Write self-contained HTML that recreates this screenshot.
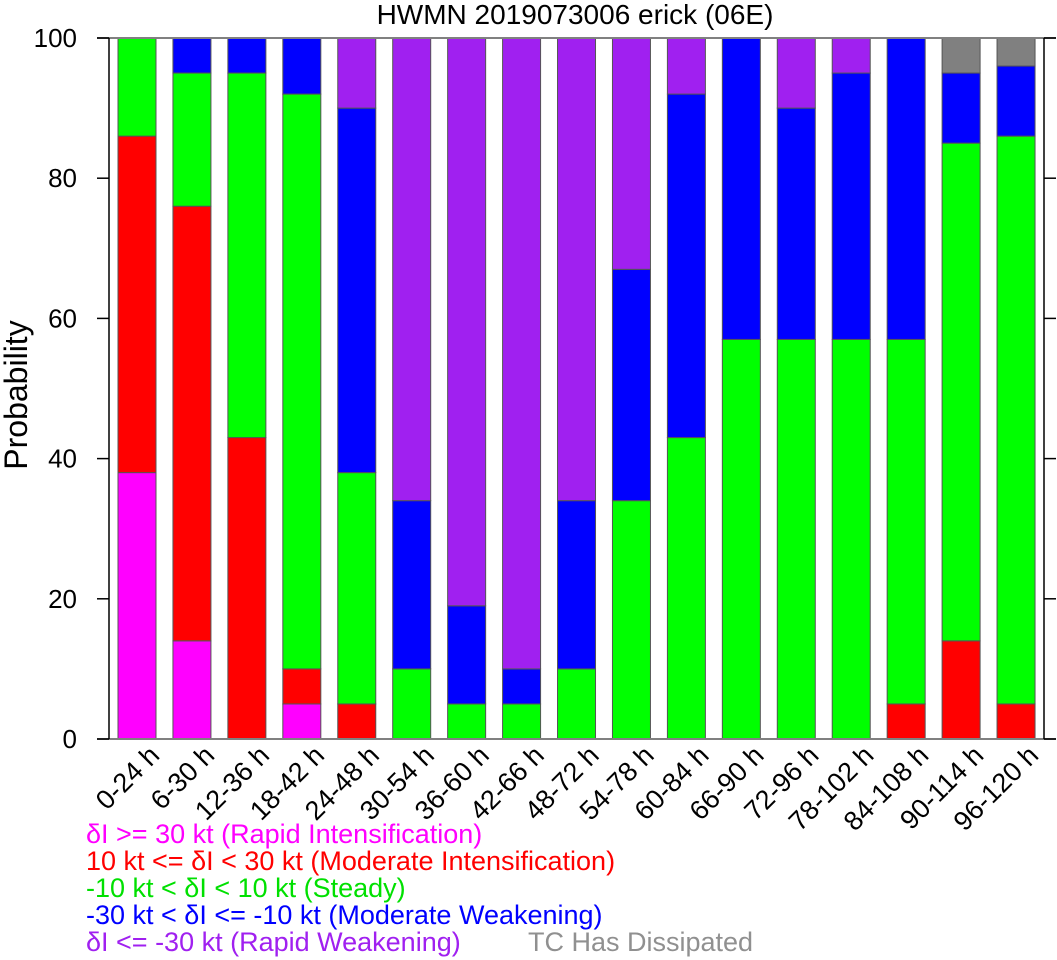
<!DOCTYPE html>
<html><head><meta charset="utf-8">
<style>
html,body{margin:0;padding:0;background:#fff;}
svg{display:block;font-family:"Liberation Sans",sans-serif;}
</style></head>
<body>
<svg id="chart" width="1057" height="960" viewBox="0 0 1057 960" xmlns="http://www.w3.org/2000/svg">
<text x="575" y="24" font-size="28" text-anchor="middle">HWMN 2019073006 erick (06E)</text>
<text transform="translate(27,395) rotate(-90)" font-size="32" text-anchor="middle">Probability</text>
<g id="bars"></g>
<g id="axes"></g>
<g font-size="27">
<text x="86" y="843" fill="#ff00ff">δI &gt;= 30 kt (Rapid Intensification)</text>
<text x="86" y="870" fill="#ff0000">10 kt &lt;= δI &lt; 30 kt (Moderate Intensification)</text>
<text x="86" y="897" fill="#00e000">-10 kt &lt; δI &lt; 10 kt (Steady)</text>
<text x="86" y="924" fill="#0000ff">-30 kt &lt; δI &lt;= -10 kt (Moderate Weakening)</text>
<text x="86" y="951" fill="#a020f0">δI &lt;= -30 kt (Rapid Weakening)</text>
<text x="528" y="951" fill="#909090">TC Has Dissipated</text>
</g>
</svg>
<script>
const categories=["0-24 h","6-30 h","12-36 h","18-42 h","24-48 h","30-54 h","36-60 h","42-66 h","48-72 h","54-78 h","60-84 h","66-90 h","72-96 h","78-102 h","84-108 h","90-114 h","96-120 h"];
const rapidInt=[38,14,0,5,0,0,0,0,0,0,0,0,0,0,0,0,0];
const moderateInt=[48,62,43,5,5,0,0,0,0,0,0,0,0,0,5,14,5];
const steady=[14,19,52,82,33,10,5,5,10,34,43,57,57,57,52,71,81];
const moderateWeak=[0,5,5,8,52,24,14,5,24,33,49,43,33,38,43,10,10];
const rapidWeak=[0,0,0,0,10,66,81,90,66,33,8,0,10,5,0,0,0];
const dissipated=[0,0,0,0,0,0,0,0,0,0,0,0,0,0,0,5,4];
const yTicks=[0,20,40,60,80,100];

const NS="http://www.w3.org/2000/svg";
const L=109,R=1044,T=38,B=739;
const y=v=>B-(v/100)*(B-T);
const xc=i=>137+i*54.94;
const bw=38;
const series=[
 {name:"rapid-intensification",vals:rapidInt,c:"#ff00ff"},
 {name:"moderate-intensification",vals:moderateInt,c:"#ff0000"},
 {name:"steady",vals:steady,c:"#00ff00"},
 {name:"moderate-weakening",vals:moderateWeak,c:"#0000ff"},
 {name:"rapid-weakening",vals:rapidWeak,c:"#a020f0"},
 {name:"dissipated",vals:dissipated,c:"#808080"}];
const bars=document.getElementById("bars");
categories.forEach((cat,i)=>{
  let base=0;
  series.forEach(s=>{
    const v=s.vals[i];
    if(v>0){
      const r=document.createElementNS(NS,"rect");
      r.setAttribute("x",xc(i)-bw/2);
      r.setAttribute("y",y(base+v));
      r.setAttribute("width",bw);
      r.setAttribute("height",y(base)-y(base+v));
      r.setAttribute("fill",s.c);
      r.setAttribute("stroke","#555");
      r.setAttribute("stroke-width","1");
      
      
      bars.appendChild(r);
    }
    base+=v;
  });
  const t=document.createElementNS(NS,"text");
  t.setAttribute("transform","translate("+(xc(i)+24)+",757) rotate(-45)");
  t.setAttribute("text-anchor","end");
  t.setAttribute("font-size","27");
  t.textContent=cat;
  
  
  bars.appendChild(t);
});
const ax=document.getElementById("axes");
function line(x1,y1,x2,y2,c,w,name){
  const l=document.createElementNS(NS,"line");
  l.setAttribute("x1",x1);l.setAttribute("y1",y1);l.setAttribute("x2",x2);l.setAttribute("y2",y2);
  l.setAttribute("stroke",c);l.setAttribute("stroke-width",w);
  
  
  ax.appendChild(l);
}
line(97,T,1056,T,"#808080",2,"top-axis-line");
line(97,B,1056,B,"#808080",2,"bottom-axis-line");
line(L,T,L,B,"#000",1.5,"left-axis-line");
line(R,T,R,B,"#000",1.5,"right-axis-line");
yTicks.forEach(v=>{
  line(L-12,y(v),L,y(v),"#000",1.5,"y-tick-left");
  line(R,y(v),R+12,y(v),"#000",1.5,"y-tick-right");
  const t=document.createElementNS(NS,"text");
  t.setAttribute("x",77);t.setAttribute("y",y(v)+9);
  t.setAttribute("text-anchor","end");t.setAttribute("font-size","26");
  t.textContent=v;
  
  
  ax.appendChild(t);
});
</script>
</body></html>
